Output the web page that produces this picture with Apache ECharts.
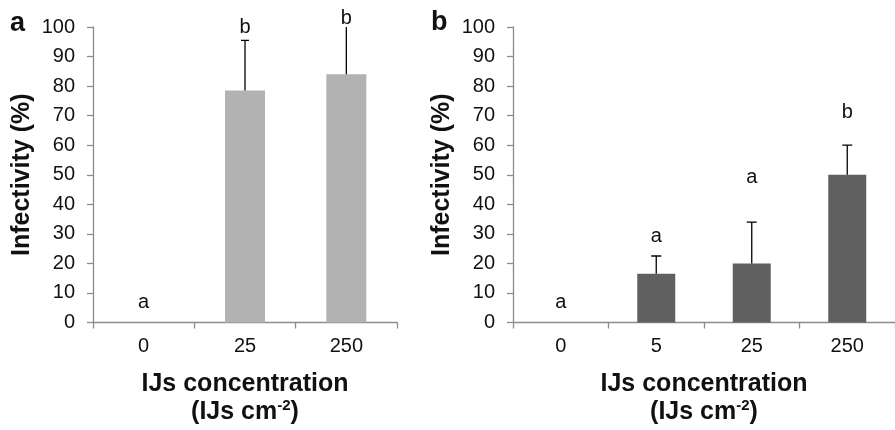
<!DOCTYPE html>
<html><head><meta charset="utf-8">
<script src="https://cdn.jsdelivr.net/npm/echarts@6/dist/echarts.min.js"></script>
<style>html,body{margin:0;padding:0;background:#fff}#c{width:895px;height:430px}</style>
</head><body><div id="c"></div>
<script>
const catsA = ['0', '25', '250'];
const valsA = [0, 78.5, 84];
const errA = [0, 17, 17];
const lettersA = ['a', 'b', 'b'];
const letterYA = [6.7, 100, 103];

const catsB = ['0', '5', '25', '250'];
const valsB = [0, 16.5, 20, 50];
const errB = [0, 6, 14, 10];
const lettersB = ['a', 'a', 'a', 'b'];
const letterYB = [6.7, 29.2, 49, 71];

const yTicks = {min: 0, max: 100, interval: 10};
const FONT = 'Liberation Sans, Arial, sans-serif';
const axisGray = '#8c8c8c';

function errRender(capW) {
  return function (params, api) {
    const x = api.value(0), v = api.value(1), e = api.value(2);
    if (!e) return null;
    const p0 = api.coord([x, v]);
    const p1 = api.coord([x, v + e]);
    const style = {stroke: '#000', lineWidth: 1.3};
    return {type: 'group', children: [
      {type: 'line', shape: {x1: p0[0], y1: p0[1], x2: p1[0], y2: p1[1]}, style},
      {type: 'line', shape: {x1: p1[0] - capW / 2, y1: p1[1], x2: p1[0] + capW / 2, y2: p1[1]}, style}
    ]};
  };
}
function letterRender(letters) {
  return function (params, api) {
    const p = api.coord([api.value(0), api.value(1)]);
    return {type: 'text', x: p[0], y: p[1], style: {text: letters[params.dataIndex], fill: '#111', font: '20px ' + FONT, align: 'center', verticalAlign: 'middle'}};
  };
}

function xAxisCfg(idx, cats) {
  return {
    type: 'category', gridIndex: idx, data: cats,
    axisLine: {lineStyle: {color: axisGray, width: 1.3}},
    axisTick: {show: true, length: 6, lineStyle: {color: axisGray, width: 1.3}},
    axisLabel: {color: '#111', fontSize: 20, fontFamily: FONT, margin: 14},
    name: '{t|IJs concentration}\n{t|(IJs cm}{s|-2}{t|)}',
    nameLocation: 'middle', nameGap: 48,
    nameTextStyle: {rich: {
      t: {fontSize: 25, fontWeight: 'bold', fontFamily: FONT, color: '#111', lineHeight: 28},
      s: {fontSize: 15, fontWeight: 'bold', fontFamily: FONT, color: '#111', lineHeight: 28, verticalAlign: 'top', padding: [0, 0, 9, 0]}
    }}
  };
}
function yAxisCfg(idx) {
  return {
    type: 'value', gridIndex: idx, min: yTicks.min, max: yTicks.max, interval: yTicks.interval,
    splitLine: {show: false},
    axisLine: {show: true, lineStyle: {color: axisGray, width: 1.3}},
    axisTick: {show: true, length: 6, lineStyle: {color: axisGray, width: 1.3}},
    axisLabel: {color: '#111', fontSize: 20, fontFamily: FONT, margin: 18},
    name: 'Infectivity (%)', nameLocation: 'middle', nameGap: 58,
    nameTextStyle: {fontSize: 25, fontWeight: 'bold', fontFamily: FONT, color: '#111'}
  };
}

const chart = echarts.init(document.getElementById('c'));
chart.setOption({
  animation: false,
  backgroundColor: '#fff',
  grid: [
    {left: 93, top: 27, width: 304, height: 298},
    {left: 513, top: 27, width: 390, height: 298}
  ],
  xAxis: [xAxisCfg(0, catsA), xAxisCfg(1, catsB)],
  yAxis: [yAxisCfg(0), yAxisCfg(1)],
  graphic: [
    {type: 'text', left: 10, top: 10, style: {text: 'a', font: 'bold 27px ' + FONT, fill: '#111'}},
    {type: 'text', left: 431, top: 9, style: {text: 'b', font: 'bold 27px ' + FONT, fill: '#111'}}
  ],
  series: [
    {type: 'bar', xAxisIndex: 0, yAxisIndex: 0, data: valsA, barWidth: 40,
     itemStyle: {color: '#b2b2b2'}},
    {type: 'custom', xAxisIndex: 0, yAxisIndex: 0, clip: true, renderItem: errRender(8),
     data: catsA.map((c, i) => [i, valsA[i], errA[i]]), z: 3},
    {type: 'custom', xAxisIndex: 0, yAxisIndex: 0, clip: false, renderItem: letterRender(lettersA),
     data: catsA.map((c, i) => [i, letterYA[i]]), z: 4},
    {type: 'bar', xAxisIndex: 1, yAxisIndex: 1, data: valsB, barWidth: 38,
     itemStyle: {color: '#606060'}},
    {type: 'custom', xAxisIndex: 1, yAxisIndex: 1, clip: true, renderItem: errRender(10),
     data: catsB.map((c, i) => [i, valsB[i], errB[i]]), z: 3},
    {type: 'custom', xAxisIndex: 1, yAxisIndex: 1, clip: false, renderItem: letterRender(lettersB),
     data: catsB.map((c, i) => [i, letterYB[i]]), z: 4}
  ]
});
</script></body></html>
